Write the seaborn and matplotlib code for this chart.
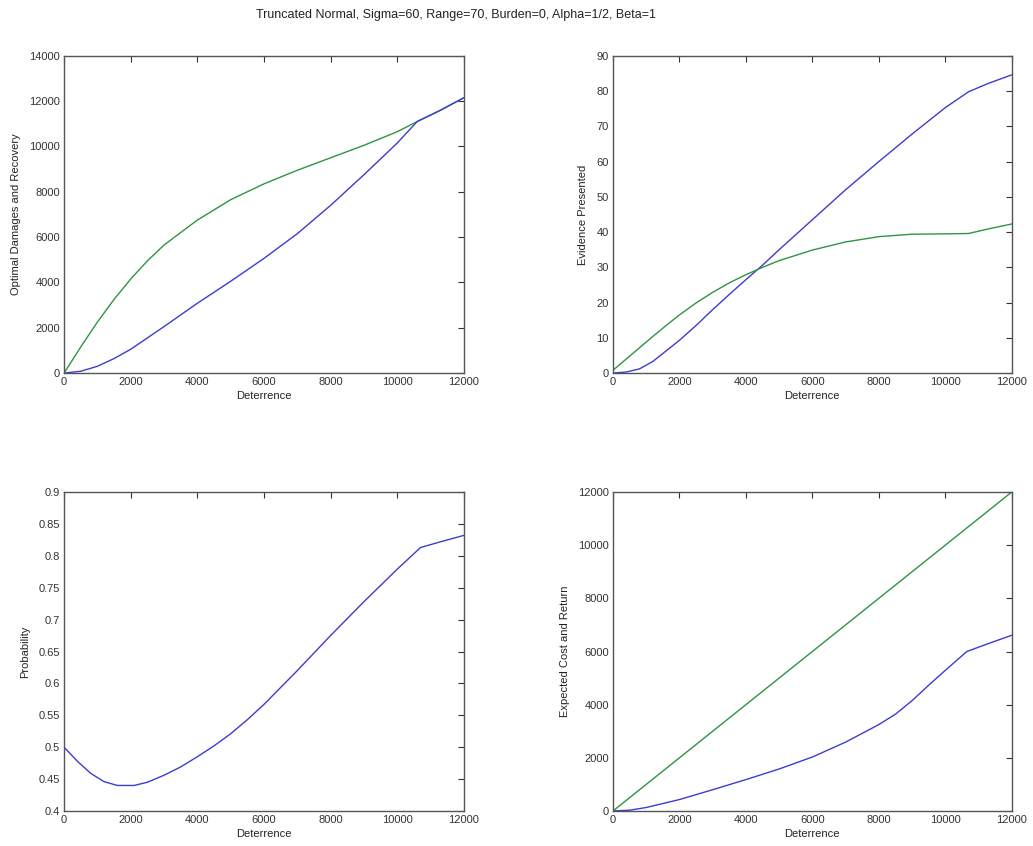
import numpy as np
import pandas as pd
import matplotlib
matplotlib.use("Agg")
import matplotlib.pyplot as plt
from matplotlib.ticker import FormatStrFormatter, MultipleLocator
import seaborn as sns

# ---------------- data ----------------
title_text = "Truncated Normal, Sigma=60, Range=70, Burden=0, Alpha=1/2, Beta=1"
x_label = "Deterrence"

# Top-left: Optimal Damages and Recovery
tl_x = [0, 500, 1000, 1500, 2000, 2500, 3000, 4000, 5000, 6000, 7000, 8000, 9000, 10000, 10600, 11300, 12000]
tl_green = [0, 1150, 2250, 3250, 4150, 4950, 5650, 6750, 7650, 8350, 8950, 9500, 10050, 10650, 11100, 11600, 12150]
tl_blue = [0, 80, 300, 640, 1050, 1550, 2050, 3080, 4050, 5060, 6150, 7400, 8750, 10150, 11100, 11600, 12150]

# Top-right: Evidence Presented
tr_x = [0, 400, 800, 1200, 1600, 2000, 2500, 3000, 3500, 4000, 4500, 5000, 6000, 7000, 8000, 9000, 10000, 10700, 11300, 12000]
tr_blue = [0, 0.3, 1.2, 3.3, 6.3, 9.3, 13.5, 18.0, 22.3, 26.5, 30.6, 35.0, 43.5, 52.0, 60.0, 67.8, 75.3, 79.8, 82.2, 84.6]
tr_green = [0.8, 4.0, 7.2, 10.4, 13.5, 16.5, 19.9, 22.9, 25.6, 27.9, 30.0, 31.9, 34.9, 37.2, 38.7, 39.4, 39.5, 39.6, 40.9, 42.3]

# Bottom-left: Probability
bl_x = [0, 400, 800, 1200, 1600, 2100, 2500, 3000, 3500, 4000, 4500, 5000, 5500, 6000, 7000, 8000, 9000, 10000, 10700, 11300, 12000]
bl_p = [0.500, 0.478, 0.459, 0.446, 0.440, 0.440, 0.445, 0.456, 0.469, 0.485, 0.502, 0.521, 0.543, 0.567, 0.620, 0.675, 0.728,
        0.779, 0.813, 0.822, 0.832]

# Bottom-right: Expected Cost and Return
br_x = [0, 500, 1000, 2000, 3000, 4000, 5000, 6000, 7000, 8000, 8500, 9000, 9500, 10000, 10650, 11300, 12000]
br_blue = [0, 30, 130, 430, 800, 1180, 1580, 2030, 2590, 3250, 3640, 4150, 4730, 5290, 6000, 6300, 6610]
br_green_x = [0, 12000]
br_green = [0, 12000]

ylabels = ["Optimal Damages and Recovery", "Evidence Presented", "Probability", "Expected Cost and Return"]

# ---------------- style ----------------
sns.set_style("white")
plt.rcParams["font.family"] = ["Liberation Sans", "DejaVu Sans"]
plt.rcParams["font.size"] = 8

BLUE = "#3c3cd2"
GREEN = "#2f9444"
SPINE = "#555555"

fig = plt.figure(figsize=(10.33, 8.46), dpi=100)
pos = {
    "tl": [0.062, 0.559, 0.387, 0.375],
    "tr": [0.5934, 0.559, 0.386, 0.375],
    "bl": [0.062, 0.0414, 0.387, 0.377],
    "br": [0.5934, 0.0414, 0.386, 0.377],
}
axes = {k: fig.add_axes(v) for k, v in pos.items()}

def line(ax, x, y, color):
    df = pd.DataFrame({"x": x, "y": y})
    sns.lineplot(data=df, x="x", y="y", ax=ax, color=color, linewidth=1.0,
                 estimator=None, sort=False)

line(axes["tl"], tl_x, tl_green, GREEN)
line(axes["tl"], tl_x, tl_blue, BLUE)
line(axes["tr"], tr_x, tr_blue, BLUE)
line(axes["tr"], tr_x, tr_green, GREEN)
line(axes["bl"], bl_x, bl_p, BLUE)
line(axes["br"], br_x, br_blue, BLUE)
line(axes["br"], br_green_x, br_green, GREEN)

ylims = {"tl": (0, 14000), "tr": (0, 90), "bl": (0.4, 0.9), "br": (0, 12000)}
ysteps = {"tl": 2000, "tr": 10, "bl": 0.05, "br": 2000}

for (k, ax), lab in zip(axes.items(), ylabels):
    ax.set_xlim(0, 12000)
    ax.set_ylim(*ylims[k])
    ax.xaxis.set_major_locator(MultipleLocator(2000))
    ax.yaxis.set_major_locator(MultipleLocator(ysteps[k]))
    ax.yaxis.set_major_formatter(FormatStrFormatter("%g"))
    ax.xaxis.set_major_formatter(FormatStrFormatter("%g"))
    ax.set_xlabel(x_label, fontsize=8, color="#222222", labelpad=3)
    ax.set_ylabel(lab, fontsize=8, color="#222222", labelpad=6)
    ax.tick_params(direction="in", length=4, width=0.8, top=True, right=True,
                   labelsize=8, colors="#333333", pad=3)
    for s in ax.spines.values():
        s.set_visible(True)
        s.set_color(SPINE)
        s.set_linewidth(1.0)
    ax.set_facecolor("white")

fig.text(456 / 1033, 1 - 15 / 846, title_text, ha="center", va="center", fontsize=9, color="#222222")

fig.savefig("out.png", dpi=100, facecolor="white")
